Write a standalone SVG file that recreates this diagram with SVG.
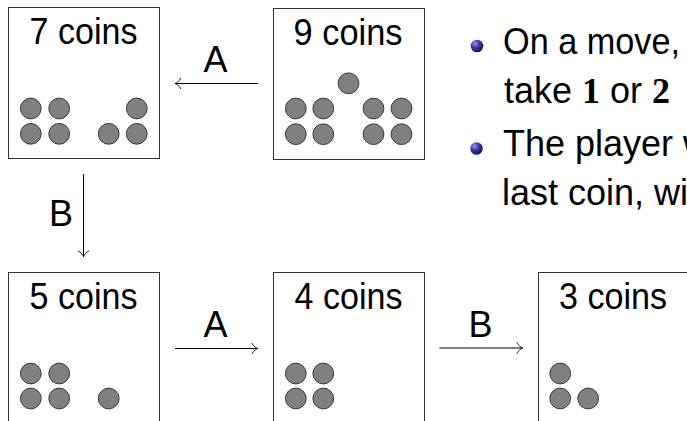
<svg xmlns="http://www.w3.org/2000/svg" width="687" height="421" viewBox="0 0 687 421">
<style>
.box{fill:#fff;stroke:#333;stroke-width:1}
.coin{fill:#808080;stroke:#2a2a2a;stroke-width:0.9}
.lbl{font-family:"Liberation Sans","DejaVu Sans",sans-serif;font-size:36px;fill:#000;text-anchor:middle}
.txt{font-family:"Liberation Sans","DejaVu Sans",sans-serif;font-size:36px;fill:#000}
.num{font-family:"Liberation Serif","DejaVu Serif",serif;font-weight:bold}
.edge{stroke:#000;stroke-width:1;fill:none}
</style>
<defs>
<marker id="to" viewBox="-7 -6 8 12" markerWidth="8" markerHeight="12" refX="0" refY="0" orient="auto" markerUnits="userSpaceOnUse">
<path d="M-6,-5.5 C-4,-2 -1.5,-0.6 0,0 C-1.5,0.6 -4,2 -6,5.5" fill="none" stroke="#000" stroke-width="0.9"/>
</marker>
<radialGradient id="ball" cx="0.35" cy="0.3" r="0.75">
<stop offset="0" stop-color="#9a9ae6"/>
<stop offset="0.45" stop-color="#3a3aa8"/>
<stop offset="1" stop-color="#141450"/>
</radialGradient>
</defs>

<g id="node-7">
<rect class="box" x="8.5" y="7.5" width="151" height="151"/>
<text class="lbl" x="83.5" y="43.5" textLength="108" lengthAdjust="spacingAndGlyphs">7 coins</text>
<circle class="coin" cx="30.8" cy="108.5" r="10.4"/>
<circle class="coin" cx="59.2" cy="108.5" r="10.4"/>
<circle class="coin" cx="136.8" cy="108.5" r="10.4"/>
<circle class="coin" cx="30.8" cy="133.8" r="10.4"/>
<circle class="coin" cx="59.2" cy="133.8" r="10.4"/>
<circle class="coin" cx="108.7" cy="133.8" r="10.4"/>
<circle class="coin" cx="136.8" cy="133.8" r="10.4"/>
</g>

<g id="node-9">
<rect class="box" x="273.5" y="8.5" width="151" height="151"/>
<text class="lbl" x="348" y="44.5" textLength="109" lengthAdjust="spacingAndGlyphs">9 coins</text>
<circle class="coin" cx="348.5" cy="83.3" r="10.4"/>
<circle class="coin" cx="295.8" cy="108.5" r="10.4"/>
<circle class="coin" cx="323.3" cy="108.5" r="10.4"/>
<circle class="coin" cx="373.5" cy="108.5" r="10.4"/>
<circle class="coin" cx="401.5" cy="108.5" r="10.4"/>
<circle class="coin" cx="295.8" cy="134.2" r="10.4"/>
<circle class="coin" cx="323.3" cy="134.2" r="10.4"/>
<circle class="coin" cx="373.5" cy="134.2" r="10.4"/>
<circle class="coin" cx="401.5" cy="134.2" r="10.4"/>
</g>

<g id="node-5">
<rect class="box" x="8.5" y="272.5" width="151" height="152"/>
<text class="lbl" x="83.5" y="308.7" textLength="108" lengthAdjust="spacingAndGlyphs">5 coins</text>
<circle class="coin" cx="30.8" cy="373.5" r="10.4"/>
<circle class="coin" cx="59.2" cy="373.5" r="10.4"/>
<circle class="coin" cx="30.8" cy="398.5" r="10.4"/>
<circle class="coin" cx="59.2" cy="398.5" r="10.4"/>
<circle class="coin" cx="108.7" cy="398.5" r="10.4"/>
</g>

<g id="node-4">
<rect class="box" x="273.5" y="272.5" width="151" height="152"/>
<text class="lbl" x="348.5" y="308.7" textLength="108" lengthAdjust="spacingAndGlyphs">4 coins</text>
<circle class="coin" cx="295.8" cy="373.5" r="10.4"/>
<circle class="coin" cx="323.3" cy="373.5" r="10.4"/>
<circle class="coin" cx="295.8" cy="398.5" r="10.4"/>
<circle class="coin" cx="323.3" cy="398.5" r="10.4"/>
</g>

<g id="node-3">
<rect class="box" x="538.5" y="272.5" width="151" height="152"/>
<text class="lbl" x="613" y="308.7" textLength="108" lengthAdjust="spacingAndGlyphs">3 coins</text>
<circle class="coin" cx="560.2" cy="373.5" r="10.4"/>
<circle class="coin" cx="560.2" cy="398.5" r="10.4"/>
<circle class="coin" cx="588.2" cy="398.5" r="10.4"/>
</g>

<g id="connectors">
<line class="edge" x1="258.3" y1="83.5" x2="175" y2="83.5" marker-end="url(#to)"/>
<text class="lbl" x="215.5" y="72.3">A</text>
<line class="edge" x1="83.5" y1="174" x2="83.5" y2="256.7" marker-end="url(#to)"/>
<text class="lbl" x="61" y="225.7">B</text>
<line class="edge" x1="175" y1="348.5" x2="257.7" y2="348.5" marker-end="url(#to)"/>
<text class="lbl" x="215.5" y="336.7">A</text>
<line class="edge" x1="439.3" y1="348" x2="522.7" y2="348" marker-end="url(#to)"/>
<text class="lbl" x="480.5" y="336.7">B</text>
</g>

<g id="rules">
<circle cx="477" cy="46" r="6.3" fill="url(#ball)"/>
<text class="txt" x="503" y="54" textLength="177" lengthAdjust="spacingAndGlyphs">On a move,</text>
<text class="txt" x="504" y="103">take <tspan class="num">1</tspan> or <tspan class="num">2</tspan></text>
<circle cx="476.5" cy="148.5" r="6.3" fill="url(#ball)"/>
<text class="txt" x="503" y="156">The player w</text>
<text class="txt" x="502" y="205">last coin, wi</text>
</g>
</svg>
